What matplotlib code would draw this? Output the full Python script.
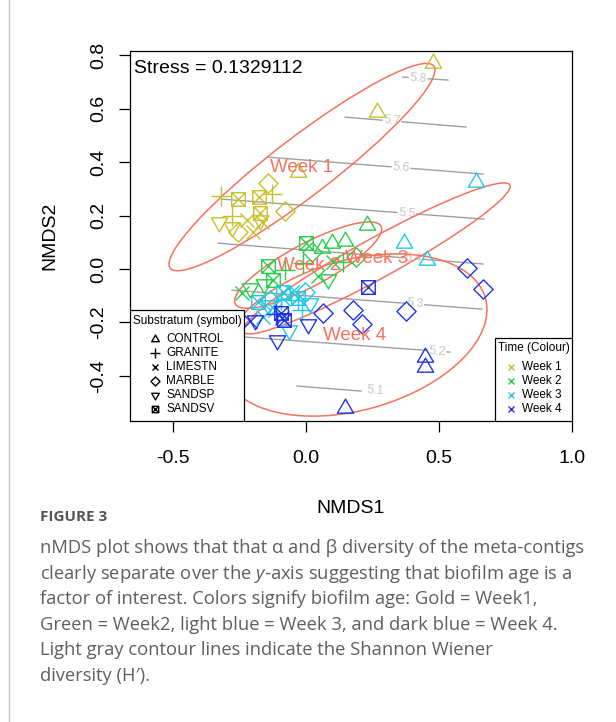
import numpy as np
import matplotlib
matplotlib.use("Agg")
import matplotlib.pyplot as plt
from matplotlib.path import Path
from matplotlib.patches import Ellipse, Rectangle
from matplotlib.lines import Line2D

plt.rcParams['font.family'] = ['Liberation Sans', 'DejaVu Sans']
plt.rcParams['mathtext.fontset'] = 'custom'
plt.rcParams['mathtext.rm'] = 'Open Sans'
plt.rcParams['mathtext.it'] = 'Open Sans:italic'

# ---- data (nMDS scores) ----
substrates = ['CONTROL', 'GRANITE', 'LIMESTN', 'MARBLE', 'SANDSP', 'SANDSV']
weeks = ['Week 1', 'Week 2', 'Week 3', 'Week 4']
week_cols = ['#C9C12A', '#27CF4A', '#22C8E8', '#2035E8']

w1_sub = ['CONTROL']*3 + ['GRANITE']*3 + ['LIMESTN']*3 + ['MARBLE']*3 + ['SANDSP']*3 + ['SANDSV']*3
w1_x = [0.478, 0.268, -0.029, -0.318, -0.127, -0.277, -0.198, -0.164, -0.220,
        -0.142, -0.078, -0.254, -0.325, -0.277, -0.172, -0.254, -0.175, -0.172]
w1_y = [0.771, 0.588, 0.363, 0.273, 0.281, 0.198, 0.139, 0.176, 0.184,
        0.322, 0.217, 0.139, 0.176, 0.157, 0.184, 0.262, 0.270, 0.210]

w2_sub = ['CONTROL']*4 + ['GRANITE']*3 + ['LIMESTN']*3 + ['MARBLE']*2 + ['SANDSP']*3 + ['SANDSV']*3
w2_x = [0.061, 0.099, 0.148, 0.230, -0.010, 0.140, -0.078, -0.239, 0.046, 0.102,
        0.024, 0.189, -0.209, 0.084, -0.157, 0.001, -0.142, -0.123]
w2_y = [0.079, 0.097, 0.105, 0.165, 0.022, 0.026, -0.004, -0.090, -0.026, 0.026,
        0.064, 0.045, -0.071, -0.037, -0.056, 0.097, 0.011, -0.041]

w3_sub = ['CONTROL']*3 + ['GRANITE']*3 + ['LIMESTN']*3 + ['MARBLE']*3 + ['SANDSP']*3 + ['SANDSV']*3
w3_x = [0.639, 0.369, 0.455, -0.029, -0.092, -0.014, -0.160, -0.051, -0.115,
        -0.058, -0.134, -0.003, -0.063, 0.016, -0.142, -0.179, -0.085, -0.029]
w3_y = [0.326, 0.097, 0.034, -0.116, -0.116, -0.154, -0.180, -0.086, -0.154,
        -0.101, -0.116, -0.086, -0.228, -0.127, -0.135, -0.124, -0.086, -0.109]

w4_sub = ['CONTROL']*3 + ['GRANITE'] + ['LIMESTN']*2 + ['MARBLE']*6 + ['SANDSP']*3 + ['SANDSV']*3
w4_x = [0.448, 0.448, 0.148, -0.110, -0.209, -0.089, 0.606, 0.666, 0.377, 0.178,
        0.065, 0.211, -0.108, 0.009, -0.191, 0.234, -0.093, -0.081]
w4_y = [-0.330, -0.367, -0.521, -0.170, -0.195, -0.184, 0.004, -0.075, -0.157, -0.154,
        -0.165, -0.206, -0.266, -0.206, -0.191, -0.067, -0.165, -0.191]

# ordiellipse: centre, full width/height, angle
ell_cx = [-0.014, 0.009, 0.266, 0.183]
ell_cy = [0.382, 0.015, 0.040, -0.247]
ell_w = [1.246, 0.62, 1.142, 1.022]
ell_h = [0.22, 0.16, 0.15, 0.562]
ell_ang = [37.4, 28.0, 28.8, 15.7]

# ordisurf contours (Shannon H') as straight segments
cont_lev = ['5.1', '5.2', '5.3', '5.4', '5.5', '5.6', '5.7', '5.8']
cont_x0 = [-0.033, -0.277, -0.277, -0.329, -0.315, -0.138, 0.148, 0.365]
cont_y0 = [-0.438, -0.251, -0.079, 0.097, 0.262, 0.419, 0.569, 0.719]
cont_x1 = [0.208, 0.542, 0.662, 0.666, 0.669, 0.666, 0.602, 0.534]
cont_y1 = [-0.457, -0.311, -0.150, 0.019, 0.187, 0.356, 0.532, 0.708]
cont_labx = [0.260, 0.493, 0.410, 0.403, 0.380, 0.358, 0.324, 0.422]

stress = 0.1329112

# ---- R-like plotting symbols ----
R_PT = 4.9
tri_up = Path([(0, 1.378), (-1.193, -0.689), (1.193, -0.689), (0, 1.378)], closed=True)
tri_dn = Path([(0, -1.378), (-1.193, 0.689), (1.193, 0.689), (0, -1.378)], closed=True)
diam = Path([(0, 1), (1, 0), (0, -1), (-1, 0), (0, 1)], closed=True)
sqx = Path([(-1, -1), (1, -1), (1, 1), (-1, 1), (-1, -1), (1, 1), (-1, 1), (1, -1)],
           [Path.MOVETO, Path.LINETO, Path.LINETO, Path.LINETO, Path.LINETO,
            Path.LINETO, Path.MOVETO, Path.LINETO])
markers = {'CONTROL': (tri_up, 2*1.378*R_PT), 'GRANITE': ('+', 2*1.414*R_PT),
           'LIMESTN': ('x', 2*R_PT), 'MARBLE': (diam, 2*1.414*R_PT),
           'SANDSP': (tri_dn, 2*1.378*R_PT), 'SANDSV': (sqx, 2*R_PT)}

fig = plt.figure(figsize=(6.16, 7.22), dpi=100)
ax = fig.add_axes([0.2106, 0.4169, 0.718, 0.5129])

# contours
for lev, x0, y0, x1, y1, lx in zip(cont_lev, cont_x0, cont_y0, cont_x1, cont_y1, cont_labx):
    ax.plot([x0, x1], [y0, y1], color='#a0a0a0', lw=1.0, zorder=1)
    ly = np.interp(lx, [x0, x1], [y0, y1])
    ang = np.degrees(np.arctan2(y1 - y0, x1 - x0))
    ax.text(lx, ly, lev, color='#c8c8c8', fontsize=9, ha='center', va='center',
            rotation=ang, zorder=1.5,
            bbox=dict(fc='white', ec='none', pad=0.5))

# points
for xs, ys, subs, col in zip([w1_x, w2_x, w3_x, w4_x], [w1_y, w2_y, w3_y, w4_y],
                             [w1_sub, w2_sub, w3_sub, w4_sub], week_cols):
    xs = np.array(xs); ys = np.array(ys); subs = np.array(subs)
    for s in substrates:
        m = subs == s
        mk, ms = markers[s]
        ax.plot(xs[m], ys[m], ls='none', marker=mk, ms=ms, mfc='none',
                mec=col, mew=1.0, zorder=3)

# ellipses and labels
for wk, cx, cy, w, h, a in zip(weeks, ell_cx, ell_cy, ell_w, ell_h, ell_ang):
    ax.add_patch(Ellipse((cx, cy), w, h, angle=a, fill=False, ec='#F4725E', lw=1.1, zorder=2.5))
    ax.text(cx, cy, wk, color='#F4725E', fontsize=13.5, ha='center', va='center', zorder=4)

ax.text(0.0097, 0.9506, 'Stress = ' + str(stress), transform=ax.transAxes,
        fontsize=14, va='center', ha='left')

ax.set_xlim(-0.661, 1.0)
ax.set_ylim(-0.569, 0.818)
ax.set_xticks([-0.5, 0.0, 0.5, 1.0])
ax.set_xticklabels(['-0.5', '0.0', '0.5', '1.0'])
ax.set_yticks([-0.4, -0.2, 0.0, 0.2, 0.4, 0.6, 0.8])
ax.set_yticklabels(['-0.4', '-0.2', '0.0', '0.2', '0.4', '0.6', '0.8'], rotation=90, va='center')
ax.tick_params(axis='x', length=8, width=0.9, labelsize=14, pad=13)
ax.tick_params(axis='y', length=8, width=0.9, labelsize=14, pad=8)
for sp in ax.spines.values():
    sp.set_linewidth(0.9)
ax.set_xlabel('NMDS1', fontsize=14)
ax.set_ylabel('NMDS2', fontsize=14)
ax.xaxis.set_label_coords(0.5, -0.214)
ax.yaxis.set_label_coords(-0.162, 0.5)

# legend: substratum
ax.add_patch(Rectangle((0, 0), 0.258, 0.30, transform=ax.transAxes, fc='white',
                       ec='black', lw=0.9, zorder=5))
ax.text(0.0075, 0.270, 'Substratum (symbol)', transform=ax.transAxes, fontsize=8.5,
        va='center', zorder=6)
for i, s in enumerate(substrates):
    yy = 0.2206 - i*0.0375
    mk, ms = markers[s]
    ax.plot([0.0572], [yy], ls='none', marker=mk, ms=ms*0.47, mfc='none', mec='black',
            mew=1.0, transform=ax.transAxes, zorder=6, clip_on=False)
    ax.text(0.0821, yy, s, transform=ax.transAxes, fontsize=8.5, va='center', zorder=6)

# legend: time
ax.add_patch(Rectangle((0.826, 0), 0.174, 0.224, transform=ax.transAxes, fc='white',
                       ec='black', lw=0.9, zorder=5))
ax.text(0.8327, 0.197, 'Time (Colour)', transform=ax.transAxes, fontsize=8.5,
        va='center', zorder=6)
for i, (wk, col) in enumerate(zip(weeks, week_cols)):
    yy = 0.145 - i*0.0378
    ax.plot([0.8614], [yy], ls='none', marker='x', ms=5, mec=col, mew=1.0,
            transform=ax.transAxes, zorder=6, clip_on=False)
    ax.text(0.8863, yy, wk, transform=ax.transAxes, fontsize=8.5, va='center', zorder=6)

# page furniture
fig.add_artist(Line2D([9/616, 9/616], [0, 1], color='#c0c0c0', lw=1.0, transform=fig.transFigure))
cap_font = ['Open Sans', 'DejaVu Sans']
fig.text(40/616, 1 - 517/722, 'FIGURE 3', family=cap_font, fontsize=11,
         fontweight='bold', color='#555555', va='center')
cap_lines = ['nMDS plot shows that that \u03b1 and \u03b2 diversity of the meta-contigs',
             'clearly separate over the $y$-axis suggesting that biofilm age is a',
             'factor of interest. Colors signify biofilm age: Gold = Week1,',
             'Green = Week2, light blue = Week 3, and dark blue = Week 4.',
             'Light gray contour lines indicate the Shannon Wiener',
             'diversity (H\u2032).']
for i, ln in enumerate(cap_lines):
    fig.text(40/616, 1 - (548 + i*25.6)/722, ln, family=cap_font, fontsize=13.2,
             color='#5f5f5f', va='center')

fig.savefig('out.png', dpi=100)
